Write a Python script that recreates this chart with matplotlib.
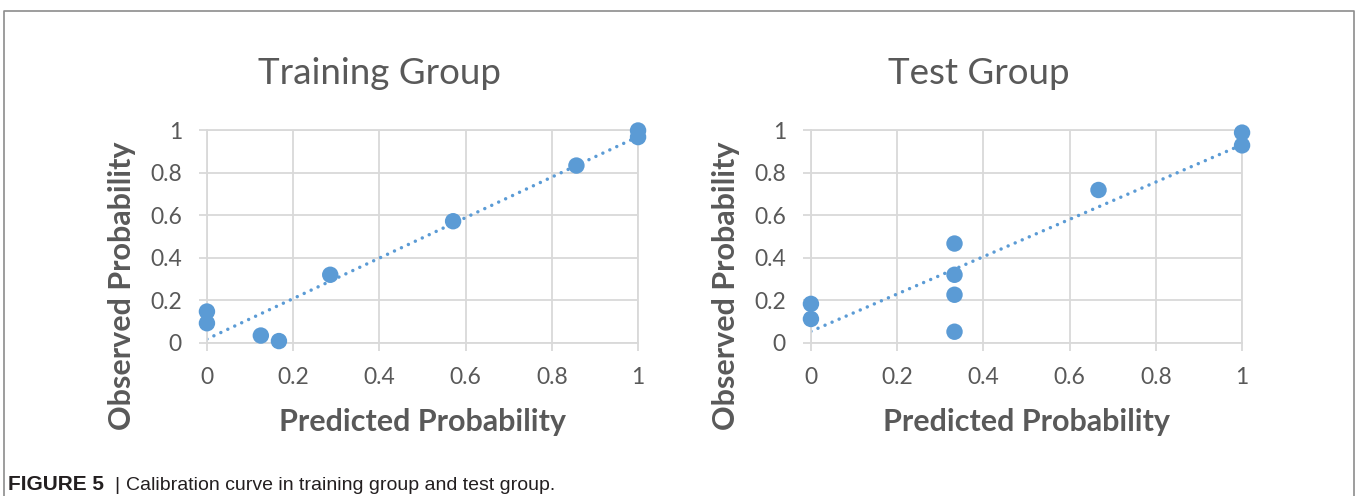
import numpy as np
import matplotlib.pyplot as plt
from matplotlib.lines import Line2D
from matplotlib.ticker import FuncFormatter

# calibration points (predicted, observed)
TRAIN_PRED = [0, 0, 0.125, 0.167, 0.286, 0.571, 0.857, 1, 1]
TRAIN_OBS = [0.148, 0.093, 0.035, 0.009, 0.321, 0.573, 0.835, 1.0, 0.969]

TEST_PRED = [0, 0, 0.333, 0.333, 0.333, 0.333, 0.667, 1, 1]
TEST_OBS = [0.184, 0.113, 0.468, 0.321, 0.227, 0.053, 0.720, 0.990, 0.930]

TICKS = [0, 0.2, 0.4, 0.6, 0.8, 1]

BLUE = "#5B9BD5"
GRAY_TEXT = "#595959"
GRID = "#D9D9D9"
FONT = "Lato"

plt.rcParams["font.family"] = [FONT, "DejaVu Sans"]


def tick_fmt(v, pos):
    return f"{v:g}"


def draw_panel(fig, rect, pred, obs, title, title_x):
    ax = fig.add_axes(rect)
    ax.set_xlim(0, 1)
    ax.set_ylim(0, 1)
    ax.set_xticks(TICKS)
    ax.set_yticks(TICKS)
    ax.xaxis.set_major_formatter(FuncFormatter(tick_fmt))
    ax.yaxis.set_major_formatter(FuncFormatter(tick_fmt))
    ax.grid(True, color=GRID, linewidth=1.3)
    ax.set_axisbelow(True)
    for sp in ax.spines.values():
        sp.set_color(GRID)
        sp.set_linewidth(1.3)
    ax.tick_params(direction="out", length=6, width=1.3, color=GRID,
                   labelcolor=GRAY_TEXT, labelsize=16.5)
    ax.tick_params(axis="x", pad=11)
    ax.tick_params(axis="y", pad=12)

    # linear trendline
    slope, icpt = np.polyfit(pred, obs, 1)
    xs = np.array([0, 1])
    ax.plot(xs, slope * xs + icpt, color=BLUE, linewidth=2.5,
            linestyle=(0, (0.01, 2.2)), dash_capstyle="round", zorder=2)

    ax.scatter(pred, obs, s=140, color=BLUE, edgecolors="none",
               zorder=3, clip_on=False)

    ax.set_xlabel("Predicted Probability", fontsize=22, fontweight="bold",
                  color=GRAY_TEXT, labelpad=15)
    ax.set_ylabel("Observed Probability", fontsize=22, fontweight="bold",
                  color=GRAY_TEXT)
    ax.yaxis.set_label_coords(-0.165, 0.27)
    fig.text(title_x, 0.852, title, fontsize=26.5, color=GRAY_TEXT,
             ha="center", va="center")
    return ax


fig = plt.figure(figsize=(13.57, 4.96), dpi=100)

draw_panel(fig, [0.1525, 0.3085, 0.3177, 0.4284], TRAIN_PRED, TRAIN_OBS,
           "Training Group", 380 / 1357)
draw_panel(fig, [0.5976, 0.3085, 0.3177, 0.4284], TEST_PRED, TEST_OBS,
           "Test Group", 979 / 1357)

# outer frame (open at the bottom)
fw, fh = 1357, 496
frame_x = [4 / fw, 4 / fw, 1354 / fw, 1354 / fw]
frame_y = [0, 1 - 11 / fh, 1 - 11 / fh, 0]
fig.add_artist(Line2D(frame_x, frame_y, transform=fig.transFigure,
                      color="#8C8C8C", linewidth=1.2))

cap_y = 1 - 485 / fh
fig.text(8 / fw, cap_y, "FIGURE 5", fontsize=15, fontweight="bold",
         color="#231F20", family="Liberation Sans", va="center")
fig.text(114 / fw, cap_y, "|", fontsize=14, color="#231F20",
         family="Liberation Sans", va="center")
fig.text(126 / fw, cap_y, "Calibration curve in training group and test group.",
         fontsize=14, color="#231F20", family="Liberation Sans", va="center")

fig.savefig("out.png", dpi=100)
